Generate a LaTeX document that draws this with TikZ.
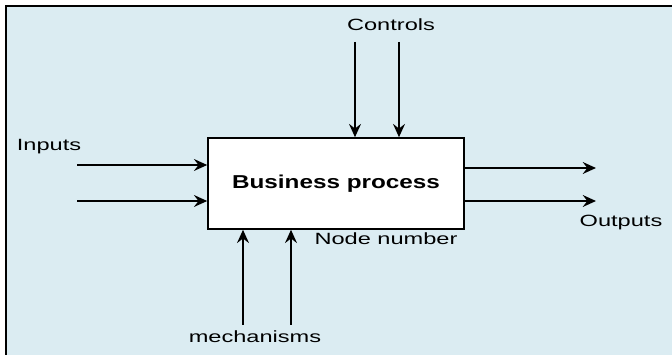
\documentclass[tikz,border=0pt]{standalone}
\usepackage{fontspec}
\setmainfont{Liberation Sans}
\newfontfamily\lblfont[FakeStretch=1.45]{Liberation Sans}
\newfontfamily\boxfont[FakeStretch=1.3]{Liberation Sans}
\usepackage{tikz}
\usetikzlibrary{arrows.meta}
\definecolor{bgblue}{RGB}{219,236,242}
\tikzset{lbl/.style={font=\lblfont\fontsize{12.2}{12.2}\selectfont, inner sep=0pt}}
\tikzset{ttl/.style={font=\boxfont\bfseries\fontsize{14}{14}\selectfont, inner sep=0pt}}
\tikzset{flow/.style={-{Stealth[length=10pt, width=9pt, inset=3.5pt]}, line width=1.1pt}}

\begin{document}
\begin{tikzpicture}[x=0.75pt, y=-0.75pt]
      \useasboundingbox (0,0) rectangle (672,356);
      \fill[bgblue] (6,6) rectangle (672,355);
      \draw[line width=1.2pt] (6,355) -- (6,6) -- (672,6);
      \node (bp) at (336,183.5) [draw, fill=white, line width=1.2pt,
        minimum width=192pt, minimum height=68.25pt] {};
      \node[ttl] (bpt) at (bp.center) {Business process};
      % controls
      \coordinate (c1) at (355,42);
      \coordinate (c2) at (399,42);
      \node[lbl] (ctl) at (391,25) {Controls};
      \draw[flow] (c1) -- (c1 |- bp.north);
      \draw[flow] (c2) -- (c2 |- bp.north);
      % inputs
      \coordinate (i1) at (77,165);
      \coordinate (i2) at (77,201);
      \node[lbl] (inp) at (49,147) {Inputs};
      \draw[flow] (i1) -- (i1 -| bp.west);
      \draw[flow] (i2) -- (i2 -| bp.west);
      % outputs
      \coordinate (o1) at (596,168);
      \coordinate (o2) at (596,201);
      \node[lbl] (outp) at (621,223) {Outputs};
      \draw[flow] (o1 -| bp.east) -- (o1);
      \draw[flow] (o2 -| bp.east) -- (o2);
      % mechanisms
      \coordinate (m1) at (243,325);
      \coordinate (m2) at (291,325);
      \node[lbl] (mech) at (255,337) {mechanisms};
      \draw[flow] (m1) -- (m1 |- bp.south);
      \draw[flow] (m2) -- (m2 |- bp.south);
      \node[lbl] (num) at (386,239) {Node number};
    \end{tikzpicture}
\end{document}
